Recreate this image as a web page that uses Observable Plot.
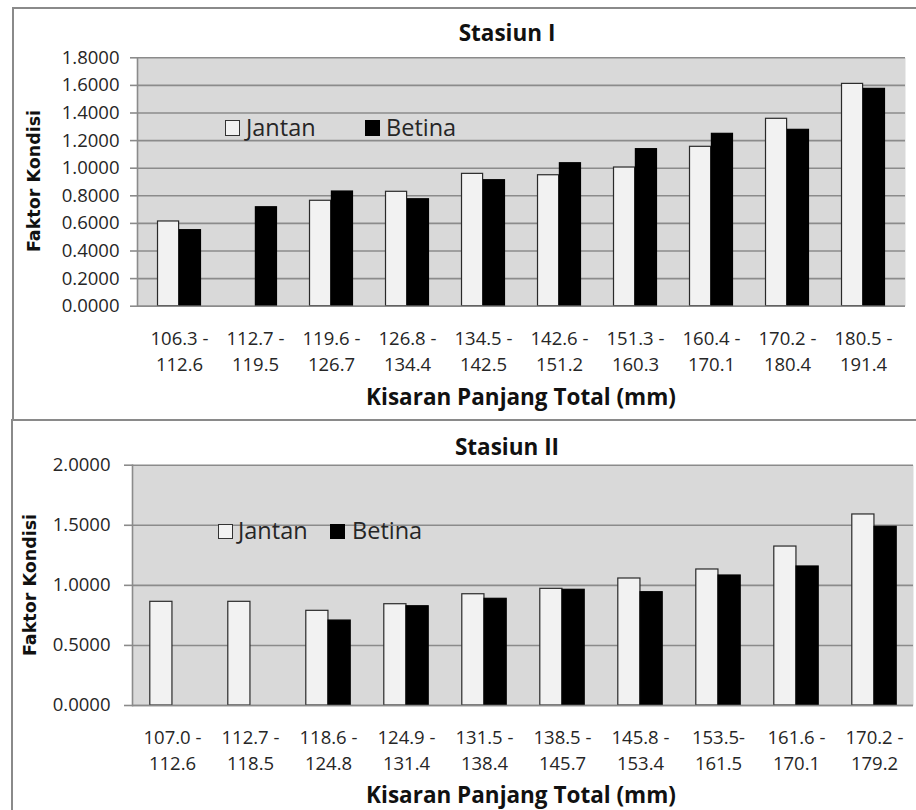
<!DOCTYPE html>
<html>
<head>
<meta charset="utf-8">
<script src="https://cdn.jsdelivr.net/npm/d3@7"></script>
<script src="https://cdn.jsdelivr.net/npm/@observablehq/plot@0.6"></script>
<style>
  html, body { margin: 0; padding: 0; background: #fff; }
  #wrap { position: relative; width: 916px; height: 810px; overflow: hidden; background: #fff; font-family: "Open Sans", sans-serif; color: #262626; }
  .chart { position: absolute; left: 0; }
  .panel { position: absolute; border: 2px solid #8a8a8a; box-sizing: border-box; pointer-events: none; }
  .lbl { position: absolute; white-space: nowrap; line-height: 1; transform: translate(-50%, -50%); }
  .title { font-weight: bold; font-size: 22.5px; color: #111; }
  .ytitle { font-family: "DejaVu Sans", sans-serif; font-weight: bold; font-size: 17.5px; color: #111; transform: translate(-50%, -50%) rotate(-90deg); }
  .sw { position: absolute; box-sizing: border-box; border: 1px solid #333; }
  .legtxt { position: absolute; font-size: 23.5px; line-height: 1; white-space: nowrap; transform: translateY(-50%); color: #262626; }
</style>
</head>
<body>
<div id="wrap"></div>
<script>
// ---------- data ----------
const seriesNames = ["Jantan", "Betina"];
const xTitle = "Kisaran Panjang Total (mm)";
const yTitle = "Faktor Kondisi";

const title1 = "Stasiun I";
const cats1 = ["106.3 -\n112.6", "112.7 -\n119.5", "119.6 -\n126.7", "126.8 -\n134.4", "134.5 -\n142.5",
               "142.6 -\n151.2", "151.3 -\n160.3", "160.4 -\n170.1", "170.2 -\n180.4", "180.5 -\n191.4"];
const jantan1 = [0.614, null, 0.764, 0.829, 0.959, 0.949, 1.005, 1.155, 1.358, 1.611];
const betina1 = [0.551, 0.717, 0.831, 0.775, 0.913, 1.036, 1.138, 1.249, 1.278, 1.575];
const yTicks1 = [0, 0.2, 0.4, 0.6, 0.8, 1.0, 1.2, 1.4, 1.6, 1.8];

const title2 = "Stasiun II";
const cats2 = ["107.0 -\n112.6", "112.7 -\n118.5", "118.6 -\n124.8", "124.9 -\n131.4", "131.5 -\n138.4",
               "138.5 -\n145.7", "145.8 -\n153.4", "153.5-\n161.5", "161.6 -\n170.1", "170.2 -\n179.2"];
const jantan2 = [0.863, 0.863, 0.788, 0.843, 0.926, 0.971, 1.057, 1.132, 1.323, 1.590];
const betina2 = [null, null, 0.707, 0.826, 0.888, 0.963, 0.943, 1.082, 1.157, 1.487];
const yTicks2 = [0, 0.5, 1.0, 1.5, 2.0];

// ---------- helpers ----------
function toRows(cats, jantan, betina) {
  const out = [];
  cats.forEach((c, i) => {
    if (jantan[i] != null) out.push({cat: c, sex: seriesNames[0], value: jantan[i]});
    if (betina[i] != null) out.push({cat: c, sex: seriesNames[1], value: betina[i]});
  });
  return out;
}

const GRID = "#8b8b8b";

function makeChart(cfg) {
  const data = toRows(cfg.cats, cfg.jantan, cfg.betina);
  const band = (cfg.width - cfg.ml - cfg.mr) / cfg.cats.length;
  const gap = 0.215 * band, bw = 0.285 * band;
  return Plot.plot({
    width: cfg.width, height: cfg.height,
    marginTop: cfg.mt, marginBottom: cfg.mb, marginLeft: cfg.ml, marginRight: cfg.mr,
    style: {fontFamily: "'Open Sans', sans-serif", fontSize: "18.5px", color: "#262626", background: "transparent", overflow: "visible"},
    x: {type: "band", domain: cfg.cats, padding: 0, label: null},
    y: {domain: [cfg.ticks[0], cfg.ticks[cfg.ticks.length - 1]], label: null},
    marks: [
      Plot.frame({fill: "#d9d9d9", stroke: "none"}),
      Plot.gridY(cfg.ticks, {stroke: GRID, strokeOpacity: 1, strokeWidth: 1.6}),
      Plot.frame({anchor: "left", stroke: GRID, strokeWidth: 1.6}),
      Plot.barY(data.filter(d => d.sex === seriesNames[0]), {
        x: "cat", y: "value", fill: "#f2f2f2", stroke: "#2a2a2a", strokeWidth: 1.2,
        insetLeft: gap, insetRight: band - gap - bw
      }),
      Plot.barY(data.filter(d => d.sex === seriesNames[1]), {
        x: "cat", y: "value", fill: "#000", stroke: "#000", strokeWidth: 1.2,
        insetLeft: gap + bw, insetRight: band - gap - 2 * bw
      }),
      Plot.ruleY([0], {stroke: GRID, strokeWidth: 1.6}),
      Plot.axisY(cfg.ticks, {tickFormat: d => d.toFixed(4), tickSize: cfg.tickSize, tickPadding: cfg.tickPadding,
        stroke: GRID, strokeWidth: 1.6, label: null}),
      Plot.axisX({tickSize: 0, tickPadding: 20.5, lineHeight: 1.4, label: null})
    ]
  });
}

const wrap = document.getElementById("wrap");

function addChart(el, top) {
  el.classList.add("chart");
  el.style.top = top + "px";
  wrap.appendChild(el);
}

function addLabel(text, cls, x, y) {
  const d = document.createElement("div");
  d.className = "lbl " + cls;
  d.textContent = text;
  d.style.left = x + "px";
  d.style.top = y + "px";
  wrap.appendChild(d);
}

function addLegend(items) {
  items.forEach(it => {
    const s = document.createElement("div");
    s.className = "sw";
    s.style.left = it.bx + "px"; s.style.top = it.by + "px";
    s.style.width = it.bw + "px"; s.style.height = it.bh + "px";
    s.style.background = it.fill;
    s.style.borderColor = it.border;
    wrap.appendChild(s);
    const t = document.createElement("div");
    t.className = "legtxt";
    t.textContent = it.name;
    t.style.left = it.tx + "px"; t.style.top = it.ty + "px";
    wrap.appendChild(t);
  });
}

// ---------- panel 1 ----------
const chart1 = makeChart({cats: cats1, jantan: jantan1, betina: betina1, ticks: yTicks1,
  width: 916, height: 420, mt: 57.3, mb: 420 - 305.7, ml: 137, mr: 11, tickSize: 7, tickPadding: 11});
addChart(chart1, 0);

// ---------- panel 2 ----------
const chart2 = makeChart({cats: cats2, jantan: jantan2, betina: betina2, ticks: yTicks2,
  width: 916, height: 390, mt: 44.7, mb: 105, ml: 132, mr: 3, tickSize: 8, tickPadding: 14});
addChart(chart2, 420);

// panel borders
const p1 = document.createElement("div");
p1.className = "panel";
Object.assign(p1.style, {left: "12px", top: "7px", width: "930px", height: "414px"});
wrap.appendChild(p1);
const p2 = document.createElement("div");
p2.className = "panel";
Object.assign(p2.style, {left: "11px", top: "419px", width: "930px", height: "420px"});
wrap.appendChild(p2);

// titles
addLabel(title1, "title", 507, 33);
addLabel(title2, "title", 507, 447);
addLabel(xTitle, "title", 521, 397);
addLabel(xTitle, "title", 521, 795);
addLabel(yTitle, "ytitle", 35, 181);
addLabel(yTitle, "ytitle", 31, 585);

// legends
addLegend([
  {name: seriesNames[0], fill: "#f2f2f2", border: "#333", bx: 225, by: 120, bw: 14.5, bh: 16, tx: 246, ty: 128},
  {name: seriesNames[1], fill: "#000", border: "#000", bx: 365, by: 120, bw: 14.5, bh: 16, tx: 386, ty: 128},
  {name: seriesNames[0], fill: "#f2f2f2", border: "#333", bx: 217.5, by: 523.5, bw: 15, bh: 15, tx: 238, ty: 531},
  {name: seriesNames[1], fill: "#000", border: "#000", bx: 330, by: 523.5, bw: 15, bh: 15, tx: 352, ty: 531}
]);
</script>
</body>
</html>
